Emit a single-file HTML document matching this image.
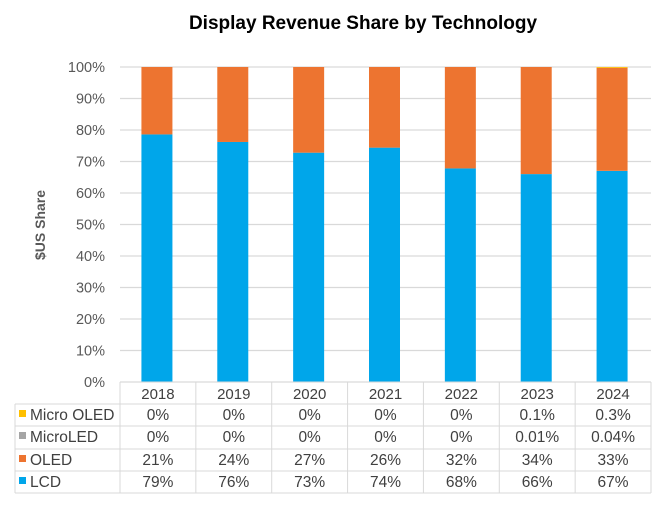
<!DOCTYPE html>
<html><head><meta charset="utf-8"><style>
body{margin:0;background:#fff;font-family:"Liberation Sans",sans-serif;}
svg text{font-family:"Liberation Sans",sans-serif;}
</style></head><body>
<svg id="c" width="663" height="504" xmlns="http://www.w3.org/2000/svg">
<text x="363" y="29" text-anchor="middle" font-size="19" font-weight="bold" fill="#000">Display Revenue Share by Technology</text>
<text transform="translate(45,225) rotate(-90)" text-anchor="middle" font-size="14" font-weight="bold" fill="#595959">$US Share</text>
<g id="grid"></g><g id="bars"></g><g id="table"></g>
</svg>
<script>
const years=["2018","2019","2020","2021","2022","2023","2024"];
const lcd=[78.6,76.2,72.8,74.4,67.8,66,67];
const microled=[0,0,0,0,0,0.01,0.04];
const oled=[21.4,23.8,27.2,25.6,32.2,34,32.7];
const microoled=[0,0,0,0,0,0.1,0.3];
const yTicks=[0,10,20,30,40,50,60,70,80,90,100];
const rowNames=["Micro OLED","MicroLED","OLED","LCD"];
const rowLabels=[
 ["0%","0%","0%","0%","0%","0.1%","0.3%"],
 ["0%","0%","0%","0%","0%","0.01%","0.04%"],
 ["21%","24%","27%","26%","32%","34%","33%"],
 ["79%","76%","73%","74%","68%","66%","67%"]];
const NS="http://www.w3.org/2000/svg";
const X0=120,X1=651,Y0=382,Y1=67,colW=(X1-X0)/years.length,barW=31;
const y=v=>Y0-(v/100)*(Y0-Y1);
const cx=i=>X0+colW*(i+0.5);
function mk(tag,at,parent){const e=document.createElementNS(NS,tag);for(const k in at)e.setAttribute(k,at[k]);parent.appendChild(e);return e;}
const g=document.getElementById('grid'),b=document.getElementById('bars'),t=document.getElementById('table');
yTicks.forEach(v=>{
 const l=mk('line',{x1:X0,x2:X1,y1:y(v),y2:y(v),stroke:'#d9d9d9','stroke-width':1.3},g);
 
 
 const tx=mk('text',{x:105,y:y(v)+5,'text-anchor':'end','font-size':14.5,fill:'#595959'},g);
 tx.textContent=v+'%';
 
 
});
const series=[[lcd,'#00a6ea','lcd'],[microled,'#a5a5a5','microled'],[oled,'#ed7430','oled'],[microoled,'#ffc000','micro-oled']];
years.forEach((yr,i)=>{
 let acc=0;
 series.forEach(([arr,col,nm])=>{
  const v=Math.min(arr[i],100-acc);
  if(v>0){const r=mk('rect',{x:cx(i)-barW/2-1,y:y(acc+v),width:barW,height:y(acc)-y(acc+v),fill:col},b);
  
  }
  acc+=arr[i];
 });
});
const rowTop=[382,404,426,449,471,493];
const lc='#d9d9d9';
rowTop.forEach((ry,k)=>{mk('line',{x1:k==0?X0:15,x2:X1,y1:ry,y2:ry,stroke:lc},t);});
for(let i=0;i<=years.length;i++){mk('line',{x1:X0+colW*i,x2:X0+colW*i,y1:382,y2:493,stroke:lc},t);}
mk('line',{x1:15,x2:15,y1:404,y2:493,stroke:lc},t);
years.forEach((yr,i)=>{
 const tx=mk('text',{x:cx(i),y:399,'text-anchor':'middle','font-size':15,fill:'#404040'},t);
 tx.textContent=yr;
 
 
});
const cols=['#ffc000','#a5a5a5','#ed7430','#00a6ea'];
rowNames.forEach((n,r)=>{
 const cy=rowTop[r+1]+16;
 const sw=mk('rect',{x:19,y:cy-10,width:7,height:7,fill:cols[r]},t);
 
 
 const tx=mk('text',{x:30,y:cy,'font-size':15.5,fill:'#404040'},t);
 tx.textContent=n;
 
 
 rowLabels[r].forEach((lab,i)=>{
  const c=mk('text',{x:cx(i),y:cy,'text-anchor':'middle','font-size':15.5,fill:'#404040'},t);
  c.textContent=lab;
  
  
 });
});
</script>
</body></html>
